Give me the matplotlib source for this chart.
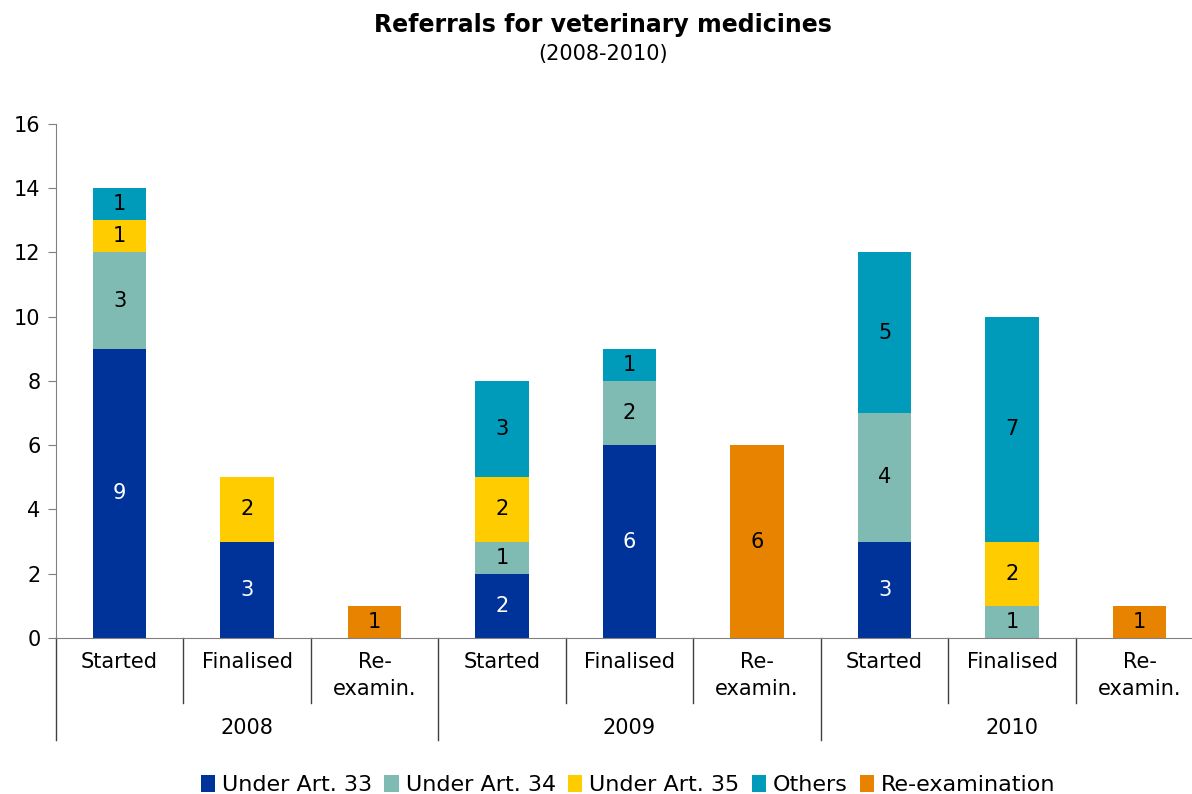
import numpy as np
import matplotlib.pyplot as plt
import matplotlib.transforms as mtransforms

# referral counts per stage and year
years = ["2008", "2009", "2010"]
stages = ["Started", "Finalised", "Re-\nexamin."]
series_names = ["Under Art. 33", "Under Art. 34", "Under Art. 35", "Others", "Re-examination"]
art33 = [9, 3, 0, 2, 6, 0, 3, 0, 0]
art34 = [3, 0, 0, 1, 2, 0, 4, 1, 0]
art35 = [1, 2, 0, 2, 0, 0, 0, 2, 0]
others = [1, 0, 0, 3, 1, 0, 5, 7, 0]
reexam = [0, 0, 1, 0, 0, 6, 0, 0, 1]

colors = ["#003399", "#7FBBB2", "#FFCC00", "#009BBB", "#E88300"]
text_colors = ["white", "black", "black", "black", "black"]

plt.rcParams["font.family"] = "DejaVu Sans"
fs = 15

fig = plt.figure(figsize=(11.92, 7.94), dpi=100)
ax = fig.add_axes([0.0468, 0.1965, 0.9627, 0.6474])

n = len(years) * len(stages)
x = np.arange(n)
bottom = np.zeros(n)
for name, vals, c, tc in zip(series_names, [art33, art34, art35, others, reexam], colors, text_colors):
    vals = np.array(vals, dtype=float)
    bars = ax.bar(x, vals, width=0.42, bottom=bottom, color=c, label=name)
    for b, v, y0 in zip(bars, vals, bottom):
        if v > 0:
            ax.text(b.get_x() + b.get_width() / 2, y0 + v / 2, f"{v:.0f}",
                    ha="center", va="center", fontsize=fs, color=tc)
    bottom += vals

ax.set_xlim(-0.5, n - 0.5)
ax.set_ylim(0, 16)
ax.set_yticks(range(0, 17, 2))
ax.tick_params(axis="y", labelsize=fs, length=6, pad=5, color="#808080", direction="out")
ax.set_xticks([])
for s in ["top", "right"]:
    ax.spines[s].set_visible(False)
ax.spines["left"].set_color("#808080")
ax.spines["bottom"].set_color("#808080")

# two-level category axis
trans = mtransforms.blended_transform_factory(ax.transData, ax.transAxes)
for i in range(n):
    ax.text(x[i], -0.027, stages[i % 3], transform=trans, ha="center", va="top",
            fontsize=fs, linespacing=1.45)
for k in range(n + 1):
    depth = -0.198 if k % 3 == 0 else -0.126
    ax.plot([k - 0.5, k - 0.5], [0, depth], transform=trans, color="#404040",
            lw=1, clip_on=False)
for j, yr in enumerate(years):
    ax.text(3 * j + 1, -0.155, yr, transform=trans, ha="center", va="top", fontsize=fs)

fig.text(0.506, 0.984, "Referrals for veterinary medicines", ha="center", va="top",
         fontsize=17, fontweight="bold")
fig.text(0.506, 0.945, "(2008-2010)", ha="center", va="top", fontsize=fs)

fig.legend(loc="lower center", bbox_to_anchor=(0.527, -0.027), ncol=5, frameon=False,
           fontsize=16, handlelength=0.65, handleheight=0.8, handletextpad=0.3,
           columnspacing=0.55)

fig.savefig("out.png", dpi=100)
